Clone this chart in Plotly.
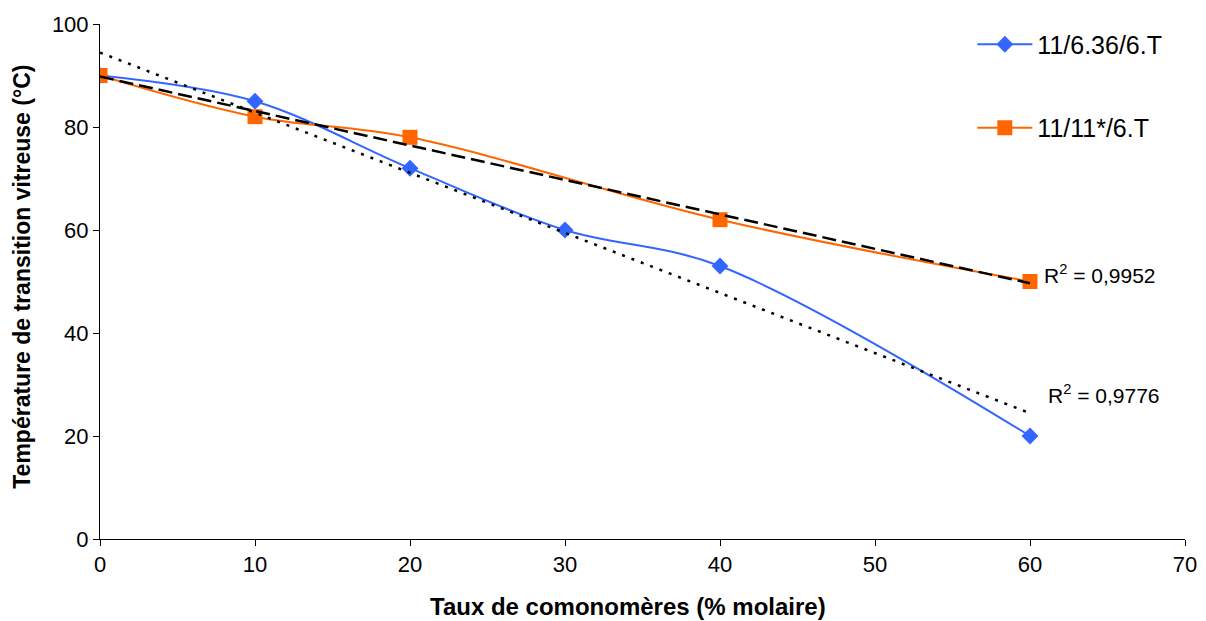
import numpy as np
import plotly.graph_objects as go

# Data
x_blue = [0, 10, 20, 30, 40, 60]
y_blue = [90, 85, 72, 60, 53, 20]
x_orange = [0, 10, 20, 40, 60]
y_orange = [90, 82, 78, 62, 50]
names = ["11/6.36/6.T", "11/11*/6.T"]
r2_labels = ["R<sup>2</sup> = 0,9776", "R<sup>2</sup> = 0,9952"]
r2_pos = [(61.0, 28.2), (60.8, 51.4)]

BLUE = "#3366FF"
ORANGE = "#FF6600"
FONT = "Arial, Liberation Sans, sans-serif"

fig = go.Figure()

fig.add_trace(go.Scatter(
    x=x_blue, y=y_blue, mode="lines+markers", name=names[0],
    line=dict(color=BLUE, width=2, shape="spline", smoothing=1),
    marker=dict(symbol="diamond", size=13, color=BLUE),
    legendgroup="a",
))
fig.add_trace(go.Scatter(
    x=x_orange, y=y_orange, mode="lines+markers", name=names[1],
    line=dict(color=ORANGE, width=2, shape="spline", smoothing=1),
    marker=dict(symbol="square", size=15, color=ORANGE),
    legendgroup="b",
))

# Linear trend lines computed from the data
for xs, ys, dash in [(x_blue, y_blue, "3px,7px"), (x_orange, y_orange, "14px,6px")]:
    m, b = np.polyfit(xs, ys, 1)
    xt = [min(xs), max(xs)]
    yt = [m * v + b for v in xt]
    fig.add_trace(go.Scatter(
        x=xt, y=yt, mode="lines", showlegend=False,
        line=dict(color="black", width=2.5, dash=dash),
        hoverinfo="skip",
    ))

for txt, (ax, ay) in zip(r2_labels, r2_pos):
    fig.add_annotation(x=ax, y=ay, text=txt, showarrow=False, xanchor="left",
                       yanchor="middle", font=dict(size=21, color="black", family=FONT))

# Axis titles (placed as annotations to match reference position)
fig.add_annotation(x=0.4866, y=-0.132, xref="paper", yref="paper",
                   text="<b>Taux de comonomères (% molaire)</b>", showarrow=False,
                   xanchor="center", yanchor="middle",
                   font=dict(size=24, color="black", family=FONT))
fig.add_annotation(x=-0.072, y=0.509, xref="paper", yref="paper",
                   text="<b>Température de transition vitreuse (°C)</b>", showarrow=False,
                   xanchor="center", yanchor="middle", textangle=-90,
                   font=dict(size=23, color="black", family=FONT))

# page body has an 8px margin: figure is 1198x613 placed at (8, 8)
fig.update_layout(
    width=1198, height=613,
    margin=dict(l=92, r=21, t=16, b=82),
    paper_bgcolor="white", plot_bgcolor="white",
    font=dict(family=FONT, color="black", size=21),
    legend=dict(x=0.804, y=1.005, xanchor="left", yanchor="top",
                font=dict(size=25, family=FONT), tracegroupgap=48,
                itemwidth=55, bgcolor="rgba(0,0,0,0)"),
    xaxis=dict(range=[0, 70], dtick=10, showgrid=False, zeroline=False,
               showline=True, linecolor="black", linewidth=1,
               ticks="outside", ticklen=6, tickcolor="black",
               tickfont=dict(size=22), automargin=False),
    yaxis=dict(range=[0, 100], dtick=20, showgrid=False, zeroline=False,
               showline=True, linecolor="black", linewidth=1,
               ticks="outside", ticklen=6, tickcolor="black",
               tickfont=dict(size=22), automargin=False),
)

fig.write_html("out.html")
